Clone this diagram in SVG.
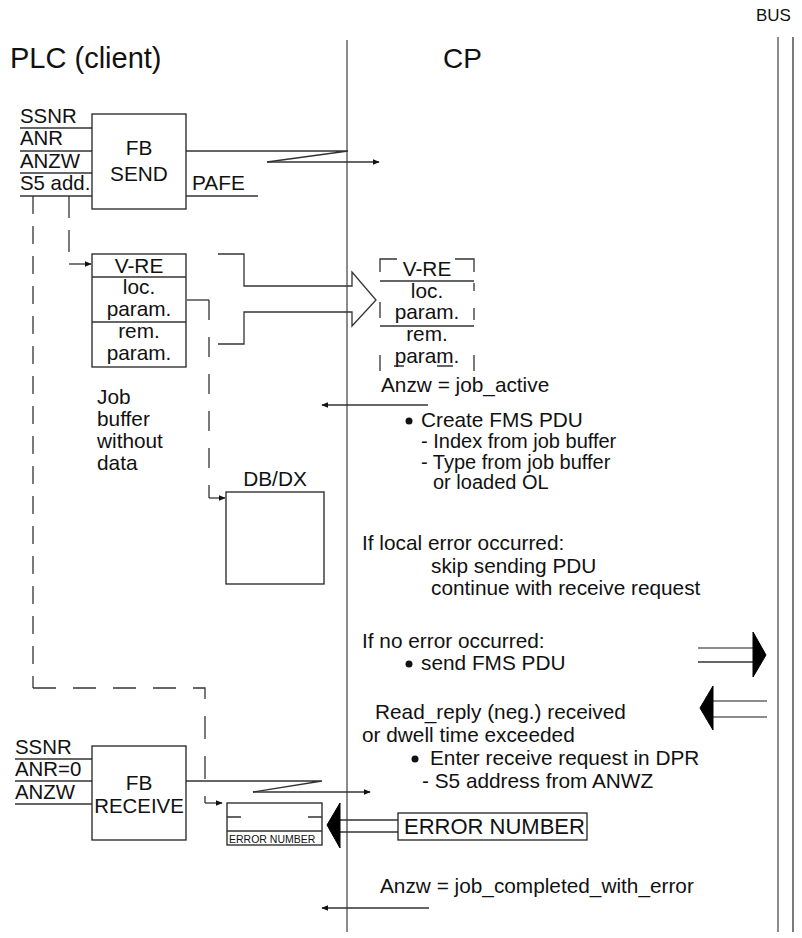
<svg xmlns="http://www.w3.org/2000/svg" width="802" height="938" viewBox="0 0 802 938">
<defs>
<style>
text{font-family:"Liberation Sans",Arial,sans-serif;font-size:20.8px;fill:#111}
.c{text-anchor:middle}
.box{fill:#fff;stroke:#222;stroke-width:1.3}
.ln{fill:none;stroke:#333;stroke-width:1.3}
.gl{fill:none;stroke:#666;stroke-width:1.5}
.dash{fill:none;stroke:#333;stroke-width:1.3;stroke-dasharray:20,14}
.fill{fill:#000;stroke:#000;stroke-width:1}
.tight{font-size:20px}
</style>
<marker id="ah" viewBox="0 0 10 10" refX="9" refY="5" markerWidth="7" markerHeight="7" markerUnits="userSpaceOnUse" orient="auto">
<path d="M0,1 L10,5 L0,9 Z" fill="#111"/>
</marker>
</defs>
<rect width="802" height="938" fill="#fff"/>

<g id="titles">
<text x="10" y="68" style="font-size:29px">PLC (client)</text>
<text x="443" y="68" style="font-size:28px">CP</text>
<text x="756" y="21" style="font-size:17px">BUS</text>
</g>

<g id="lanes">
<line class="gl" x1="347" y1="40" x2="347" y2="932"/>
<line class="gl" x1="778" y1="37" x2="778" y2="932"/>
<line class="ln" x1="793" y1="37" x2="793" y2="932"/>
</g>

<g id="connectors">
<polyline class="ln" points="186,151 348,151 267,162"/>
<line class="ln" x1="267" y1="162" x2="379" y2="162" marker-end="url(#ah)"/>
<line class="dash" x1="33" y1="196" x2="33" y2="688" style="stroke-dasharray:18,12"/>
<polyline class="dash" points="33,688 205,688 205,803" style="stroke-dasharray:23,17"/>
<line class="ln" x1="205" y1="803" x2="222" y2="803" marker-end="url(#ah)"/>
<polyline class="dash" points="69,196 69,264" style="stroke-dasharray:22,12"/>
<line class="ln" x1="69" y1="264" x2="91" y2="264" marker-end="url(#ah)"/>
<line class="ln" x1="187" y1="300" x2="209" y2="300"/>
<line class="dash" x1="209" y1="300" x2="209" y2="498" style="stroke-dasharray:20,17"/>
<line class="ln" x1="209" y1="498" x2="225" y2="498" marker-end="url(#ah)"/>
<path class="ln" d="M218,254 H244 V286 H352 V272 L376,300 L352,326 V312 H244 V344 H218"/>
<line class="ln" x1="428" y1="405" x2="322" y2="405" marker-end="url(#ah)"/>
<line class="gl" x1="698" y1="648" x2="753" y2="648"/>
<line class="ln" x1="698" y1="662" x2="753" y2="662"/>
<path class="fill" d="M753,632 L766,655 L753,677 Z"/>
<line class="gl" x1="713" y1="701" x2="767" y2="701"/>
<line class="gl" x1="713" y1="717" x2="767" y2="717"/>
<path class="fill" d="M713,686 L700,708 L713,730 Z"/>
<polyline class="ln" points="186,781 322,781 253,792"/>
<line class="ln" x1="253" y1="792" x2="370" y2="792" marker-end="url(#ah)"/>
<line class="ln" x1="340" y1="820" x2="398" y2="820"/>
<line class="ln" x1="340" y1="832" x2="398" y2="832"/>
<path class="fill" d="M340,803 L327,825 L340,848 Z"/>
<line class="ln" x1="429" y1="908" x2="322" y2="908" marker-end="url(#ah)"/>
</g>

<g id="fb-send">
<line class="ln" x1="20" y1="128" x2="92" y2="128"/>
<line class="ln" x1="20" y1="151" x2="92" y2="151"/>
<line class="ln" x1="20" y1="173" x2="92" y2="173"/>
<line class="ln" x1="20" y1="196" x2="92" y2="196"/>
<text x="20" y="123" style="font-size:20.4px">SSNR</text>
<text x="20" y="145" style="font-size:20.4px">ANR</text>
<text x="20" y="168" style="font-size:20.4px">ANZW</text>
<text x="20" y="190" style="font-size:20.4px">S5 add.</text>
<rect class="box" x="92" y="114" width="94" height="95"/>
<text class="c" x="139" y="155">FB</text>
<text class="c" x="139" y="181">SEND</text>
<line class="ln" x1="186" y1="196" x2="258" y2="196"/>
<text x="192" y="190">PAFE</text>
</g>

<g id="job-buffer">
<rect class="box" x="92" y="254" width="94" height="113"/>
<line class="ln" x1="92" y1="277" x2="186" y2="277"/>
<line class="ln" x1="92" y1="322" x2="186" y2="322"/>
<text class="c" x="139" y="273">V-RE</text>
<text class="c" x="139" y="294">loc.</text>
<text class="c" x="139" y="316">param.</text>
<text class="c" x="139" y="338">rem.</text>
<text class="c" x="139" y="360">param.</text>
<text x="97" y="404">Job</text>
<text x="97" y="426">buffer</text>
<text x="97" y="448">without</text>
<text x="97" y="470">data</text>
</g>

<g id="cp-buffer">
<path class="ln" d="M380,272 V259 H397 M455,259 H474 V272 M380,281 H474 M380,326 H474 M380,302 V318 M380,355 V371 M474,283 V291 M474,308 V320 M474,355 V371 M394,366 H404 M437,366 H453"/>
<text class="c" x="427" y="276">V-RE</text>
<text class="c" x="427" y="298">loc.</text>
<text class="c" x="427" y="319">param.</text>
<text class="c" x="427" y="341">rem.</text>
<text class="c" x="427" y="363">param.</text>
</g>

<g id="db-dx">
<text class="c" x="275" y="486">DB/DX</text>
<rect class="box" x="226" y="492" width="98" height="92"/>
</g>

<g id="cp-text">
<text x="381" y="392">Anzw = job_active</text>
<circle cx="409" cy="421" r="3.5" fill="#111"/>
<text x="421" y="427">Create FMS PDU</text>
<text x="421" y="448" class="tight">- Index from job buffer</text>
<text x="421" y="469" class="tight">- Type from job buffer</text>
<text x="433" y="489" class="tight">or loaded OL</text>
<text x="362" y="550">If local error occurred:</text>
<text x="431" y="573">skip sending PDU</text>
<text x="431" y="595">continue with receive request</text>
<text x="362" y="648">If no error occurred:</text>
<circle cx="409" cy="664" r="3.5" fill="#111"/>
<text x="421" y="670">send FMS PDU</text>
<text x="375" y="719">Read_reply (neg.) received</text>
<text x="362" y="742">or dwell time exceeded</text>
<circle cx="415" cy="759" r="3.5" fill="#111"/>
<text x="430" y="765">Enter receive request in DPR</text>
<text x="422" y="788">- S5 address from ANWZ</text>
<text x="380" y="893">Anzw = job_completed_with_error</text>
</g>

<g id="fb-receive">
<line class="ln" x1="15" y1="759" x2="92" y2="759"/>
<line class="ln" x1="15" y1="781" x2="92" y2="781"/>
<line class="ln" x1="15" y1="804" x2="92" y2="804"/>
<text x="15" y="754" style="font-size:20.4px">SSNR</text>
<text x="15" y="776" style="font-size:20.4px">ANR=0</text>
<text x="15" y="799" style="font-size:20.4px">ANZW</text>
<rect class="box" x="92" y="746" width="94" height="94"/>
<text class="c" x="139" y="790">FB</text>
<text class="c" x="139" y="813" style="font-size:20.4px">RECEIVE</text>
</g>

<g id="error-area">
<rect class="box" x="227" y="803" width="95" height="42"/>
<path class="ln" d="M227,817 H241 M308,817 H322 M227,831 H322"/>
<text x="229" y="843" style="font-size:10.5px">ERROR NUMBER</text>
</g>

<g id="error-number">
<rect class="box" x="398" y="813" width="189" height="27"/>
<text x="404" y="834" style="font-size:22px">ERROR NUMBER</text>
</g>
</svg>
